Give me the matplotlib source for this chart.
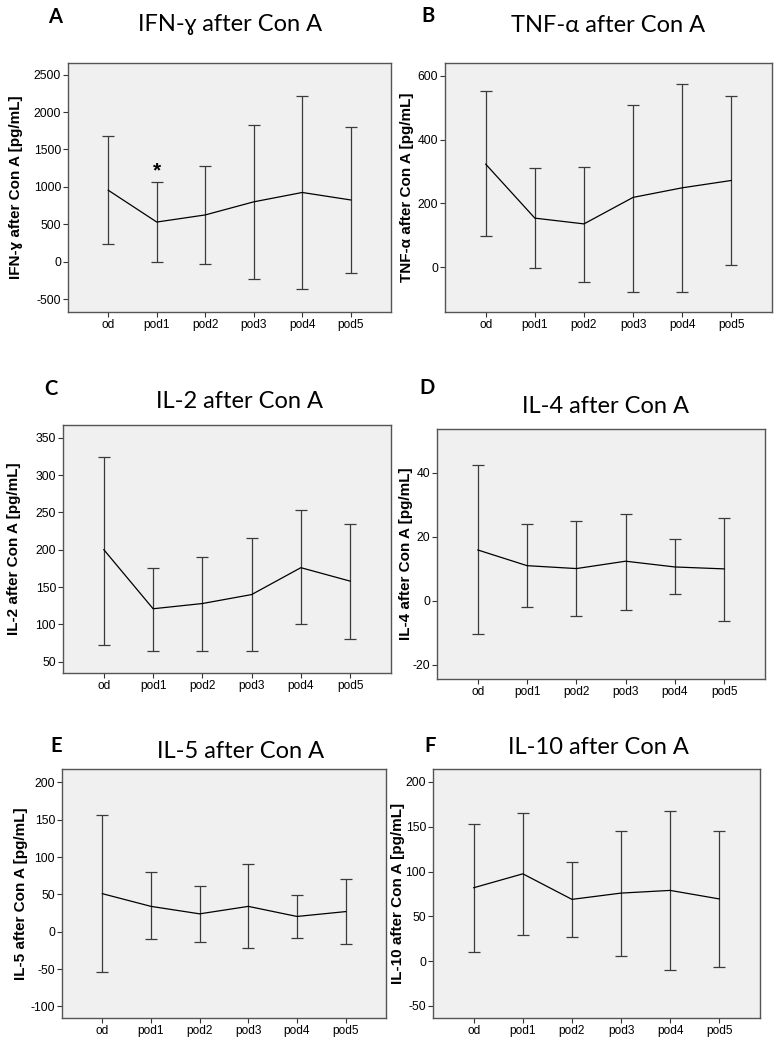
import numpy as np
import matplotlib
matplotlib.use("Agg")
import matplotlib.pyplot as plt

W, H = 778, 1044

days = ['od', 'pod1', 'pod2', 'pod3', 'pod4', 'pod5']

# means and error bar ends (lower / upper)
ifn_mean = [955, 530, 625, 800, 925, 825]
ifn_low = [230, -5, -25, -225, -365, -145]
ifn_high = [1680, 1065, 1275, 1825, 2210, 1800]

tnf_mean = [323, 154, 136, 219, 249, 272]
tnf_low = [97, -1, -45, -76, -78, 6]
tnf_high = [551, 312, 315, 510, 573, 536]

il2_mean = [200, 121, 128, 140, 176, 158]
il2_low = [73, 65, 65, 64, 100, 81]
il2_high = [324, 176, 190, 216, 253, 235]

il4_mean = [15.9, 11.0, 10.1, 12.4, 10.6, 10.0]
il4_low = [-10.4, -1.8, -4.7, -2.7, 2.0, -6.2]
il4_high = [42.3, 24.1, 24.9, 27.2, 19.2, 26.0]

il5_mean = [51, 34, 24, 34, 20.5, 27]
il5_low = [-54.5, -10.3, -13.8, -21.9, -8.5, -17]
il5_high = [156, 79.5, 61.7, 90.7, 49.6, 71]

il10_mean = [82, 97.5, 69, 76, 79, 69.5]
il10_low = [10.8, 29.5, 27.2, 5.6, -9.3, -6.3]
il10_high = [153, 165.6, 110.9, 145.5, 167.4, 145.5]

panels = [
    # letter, title, ylabel, mean, low, high, ylim, yticks,
    # box px (l, r, t, b), title px, letter px, ylabel centre x px
    ('A', 'IFN-ɣ after Con A', 'IFN-ɣ after Con A [pg/mL]', ifn_mean, ifn_low, ifn_high,
     (-672, 2655), np.arange(-500, 2501, 500), (68, 391, 63, 312), (230, 31), (55, 23), 16),
    ('B', 'TNF-α after Con A', 'TNF-α after Con A [pg/mL]', tnf_mean, tnf_low, tnf_high,
     (-140, 640), np.arange(0, 601, 200), (445, 772, 63, 312), (608, 32), (428, 22), 407),
    ('C', 'IL-2 after Con A', 'IL-2 after Con A [pg/mL]', il2_mean, il2_low, il2_high,
     (35, 367), np.arange(50, 351, 50), (63, 391, 425, 673), (239, 408), (51, 395), 14),
    ('D', 'IL-4 after Con A', 'IL-4 after Con A [pg/mL]', il4_mean, il4_low, il4_high,
     (-24.4, 53.7), np.arange(-20, 41, 20), (437, 765, 429, 679), (605, 413), (427, 394), 406),
    ('E', 'IL-5 after Con A', 'IL-5 after Con A [pg/mL]', il5_mean, il5_low, il5_high,
     (-115.5, 218), np.arange(-100, 201, 50), (62, 386, 769, 1018), (241, 758), (56, 752), 21),
    ('F', 'IL-10 after Con A', 'IL-10 after Con A [pg/mL]', il10_mean, il10_low, il10_high,
     (-63.4, 214.5), np.arange(-50, 201, 50), (433, 760, 769, 1018), (598, 754), (430, 752), 398),
]

title_font = ['Lato', 'DejaVu Sans']
arial = ['Liberation Sans', 'DejaVu Sans']

fig = plt.figure(figsize=(W / 100, H / 100), dpi=100)

for letter, title, ylab, mean, low, high, ylim, yticks, box, tpos, lpos, labx in panels:
    l, r, t, b = box
    ax = fig.add_axes([l / W, 1 - b / H, (r - l) / W, (b - t) / H])
    ax.set_facecolor('#f0f0f0')
    x = np.arange(len(days))
    mean = np.array(mean)
    err = [mean - np.array(low), np.array(high) - mean]
    ax.errorbar(x, mean, yerr=err, fmt='none', ecolor='#3a3a3a', elinewidth=0.9,
                capsize=4, capthick=0.9)
    ax.plot(x, mean, color='black', lw=0.9)
    ax.set_xlim(-0.83, 5.83)
    ax.set_ylim(*ylim)
    ax.set_xticks(x)
    ax.set_xticklabels(days, family=arial, fontsize=8.6)
    ax.set_yticks(yticks)
    ax.set_yticklabels([str(v) for v in yticks], family=arial, fontsize=8.8)
    ax.tick_params(direction='out', length=3.5, width=0.8, color='#333333', pad=1.5)
    for s in ax.spines.values():
        s.set_color('#555555')
        s.set_linewidth(1.0)
    ax.set_ylabel(ylab, family=arial, fontsize=11, fontweight='bold')
    ax.yaxis.label.set_verticalalignment('center')
    ax.yaxis.set_label_coords(labx / W, 1 - (t + b) / 2 / H, transform=fig.transFigure)
    if letter == 'A':
        ax.text(1, 1210, '*', ha='center', va='center', fontsize=15, fontweight='bold',
                family=arial)
    fig.text(tpos[0] / W, 1 - tpos[1] / H, title, ha='center', va='baseline',
             fontsize=17, family=title_font)
    fig.text(lpos[0] / W, 1 - lpos[1] / H, letter, ha='center', va='baseline',
             fontsize=14.5, fontweight='bold', family=title_font)

fig.savefig('out.png', dpi=100)
